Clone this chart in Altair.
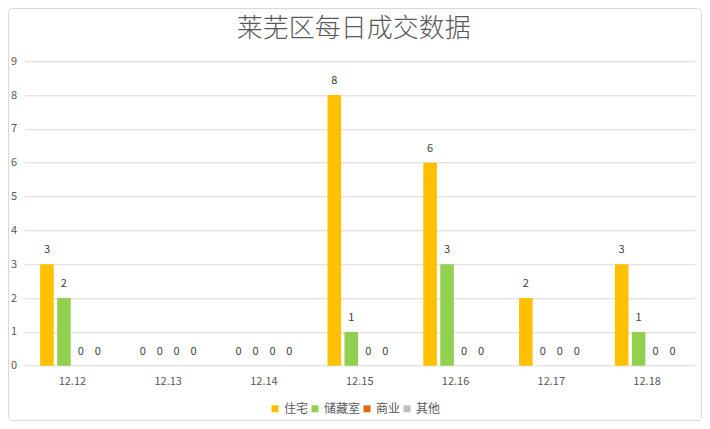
import altair as alt
import pandas as pd

dates = ["12.12", "12.13", "12.14", "12.15", "12.16", "12.17", "12.18"]
series = ["住宅", "储藏室", "商业", "其他"]
colors = ["#FFC000", "#92D050", "#E36C09", "#BFBFBF"]
values = {
    "住宅":  [3, 0, 0, 8, 6, 2, 3],
    "储藏室": [2, 0, 0, 1, 3, 0, 1],
    "商业":  [0, 0, 0, 0, 0, 0, 0],
    "其他":  [0, 0, 0, 0, 0, 0, 0],
}
y_ticks = [0, 1, 2, 3, 4, 5, 6, 7, 8, 9]

rows = []
for s in series:
    for d, v in zip(dates, values[s]):
        rows.append({"date": d, "type": s, "value": v})
df = pd.DataFrame(rows)

FONT = "Noto Sans CJK SC"

base = alt.Chart(df).encode(
    x=alt.X("date:N", sort=dates, title=None,
            scale=alt.Scale(paddingInner=0.327, paddingOuter=0.1635),
            axis=alt.Axis(labelAngle=0, domain=False, ticks=False, labelPadding=10,
                          labelColor="#595959", labelFontSize=11, labelFont=FONT)),
    xOffset=alt.XOffset("type:N", sort=series,
                        scale=alt.Scale(paddingInner=0.2, paddingOuter=0)),
    y=alt.Y("value:Q", title=None, scale=alt.Scale(domain=[0, 9], nice=False),
            axis=alt.Axis(values=y_ticks, tickCount=10, format="d", domain=False, ticks=False,
                          labelOverlap=False, labelPadding=8, gridColor="#D9D9D9",
                          labelColor="#595959", labelFontSize=11, labelFont=FONT)),
)

bars = base.mark_bar().encode(
    color=alt.Color("type:N", sort=series,
                    scale=alt.Scale(domain=series, range=colors),
                    legend=alt.Legend(title=None, orient="none", direction="horizontal",
                                      legendX=244.5, legendY=341.5,
                                      symbolType="square", symbolSize=49, symbolStrokeWidth=0,
                                      labelFontSize=12, labelColor="#595959", labelFont=FONT,
                                      labelOffset=3, columnPadding=0, symbolOffset=0)),
)

labels = base.mark_text(dy=-14, fontSize=11, color="#404040", font=FONT).encode(
    text=alt.Text("value:Q", format="d"),
)

border = alt.Chart(pd.DataFrame({"a": [0]})).mark_rect(
    fill=None, stroke="#D9D9D9", strokeWidth=1, cornerRadius=4, clip=False
).encode(x=alt.value(-16), x2=alt.value(677), y=alt.value(-52.8), y2=alt.value(359.2))

chart = alt.layer(border, bars, labels).properties(
    width=670.5, height=304.4,
    background="white",
    title=alt.TitleParams("莱芜区每日成交数据", fontSize=26, font=FONT, fontWeight=300,
                          color="#595959", anchor="middle", offset=-34, dx=-6),
    autosize=alt.AutoSizeParams(type="none"),
    padding={"left": 16.5, "top": 53.3, "right": 7, "bottom": 55.3},
).configure_view(strokeOpacity=0, strokeWidth=0)

chart.save("out.html", embed_options={"renderer": "svg", "actions": False})
